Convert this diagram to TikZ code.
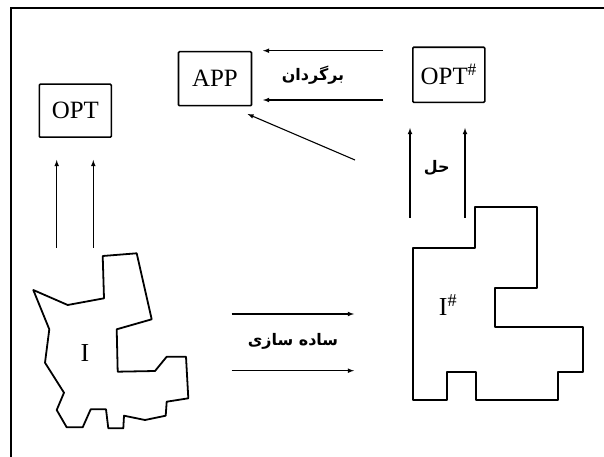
\documentclass[tikz,border=0pt]{standalone}
\usepackage{fontspec}
\setmainfont{Liberation Serif}
\newfontfamily\farsi[Script=Arabic]{DejaVu Sans}
\TeXXeTstate=1
\usetikzlibrary{arrows, positioning}

\tikzset{
  box/.style={draw, line width=1.6pt, rounded corners=1pt, inner sep=0pt,
    font=\fontsize{25}{28}\selectfont},
  fa/.style={font=\farsi\bfseries\fontsize{16}{18}\selectfont, inner sep=1pt},
  lat/.style={font=\fontsize{26}{28}\selectfont, inner sep=0pt},
  arr/.style={->, >=latex, line width=1.1pt},
  region/.style={line width=1.8pt, line join=round}
}

\begin{document}
\begin{tikzpicture}[x=1bp, y=-1bp]
  \useasboundingbox (0,0) rectangle (604,457);
  % frame
  \draw[line width=1.8pt] (11,457) -- (11,8.3) -- (604,8.3);

  % boxes
  \node[box, minimum width=72bp, minimum height=53bp] (opt) at (75.3,110.7) {OPT};
  \node[box, minimum width=73bp, minimum height=54bp] (app) at (215,78.7) {APP};
  \node[box, minimum width=72bp, minimum height=55bp] (opts) at (448.8,74.8) {OPT\textsuperscript{\#}};

  % labels
  \node[fa] (back) at (313,75) {\beginR برگردان\endR};
  \node[fa] (solve) at (436.7,168.3) {\beginR حل\endR};
  \node[fa] (simp) at (293,341.7) {\beginR ساده سازی\endR};
  \node[lat] (inst) at (85,353) {I};
  \node[lat] (insts) at (448,305) {I\textsuperscript{\#}};

  % arrow ends
  \coordinate (optl-s) at (56.7,248);
  \coordinate (optl-e) at (56.7,160);
  \coordinate (optr-s) at (93.3,248);
  \coordinate (optr-e) at (93.3,160);
  \coordinate (backt-s) at (383,50.7);
  \coordinate (backt-e) at (263,50.7);
  \coordinate (backb-s) at (383,100);
  \coordinate (backb-e) at (263,100);
  \coordinate (diag-s) at (355,160);
  \coordinate (diag-e) at (247.5,114);
  \coordinate (solvel-s) at (410,218);
  \coordinate (solvel-e) at (410,128);
  \coordinate (solver-s) at (465,218);
  \coordinate (solver-e) at (465,128);
  \coordinate (simpt-s) at (231.7,314);
  \coordinate (simpt-e) at (354,314);
  \coordinate (simpb-s) at (231.7,370.7);
  \coordinate (simpb-e) at (354,370.7);

  \draw[arr] (optl-s) -- (optl-e);
  \draw[arr] (optr-s) -- (optr-e);
  \draw[arr] (backt-s) -- (backt-e);
  \draw[arr] (backb-s) -- (backb-e);
  \draw[arr] (diag-s) -- (diag-e);
  \draw[arr] (solvel-s) -- (solvel-e);
  \draw[arr] (solver-s) -- (solver-e);
  \draw[arr] (simpt-s) -- (simpt-e);
  \draw[arr] (simpb-s) -- (simpb-e);

  % instance I
  \draw[region] (102.7,256) -- (136.7,253.3) -- (151.7,319.3) -- (116.7,329.3)
    -- (117.7,371.7) -- (155,371) -- (166.7,356.7) -- (186,356.7) -- (188.3,398.3)
    -- (166.7,401.7) -- (165.7,415.7) -- (145,420) -- (124,415.7) -- (123.3,428.3)
    -- (108.3,428.3) -- (106,409.3) -- (90.7,409.3) -- (82.7,427.3) -- (66.7,427.3)
    -- (56.7,410) -- (64,392.7) -- (45,362.7) -- (49.3,329.3) -- (33.3,290)
    -- (67.7,305) -- (104,298.3) -- cycle;

  % simplified instance
  \draw[region] (475,206.7) -- (536.7,206.7) -- (536.7,288.3) -- (495,288.3)
    -- (495,327.3) -- (582.7,327.3) -- (582.7,371.7) -- (558.3,371.7) -- (558.3,400)
    -- (476,400) -- (476,371.7) -- (446.7,371.7) -- (446.7,400) -- (413.3,400)
    -- (413.3,247.7) -- (475,247.7) -- cycle;
\end{tikzpicture}
\end{document}
